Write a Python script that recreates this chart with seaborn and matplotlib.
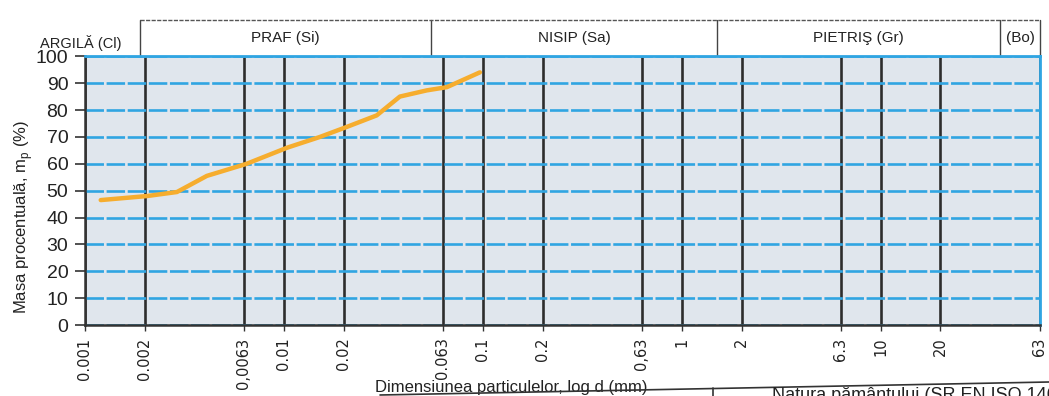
import numpy as np
import pandas as pd
import matplotlib
matplotlib.use("Agg")
import matplotlib.pyplot as plt
import seaborn as sns
from matplotlib.ticker import FixedLocator, NullLocator

# ── Data ───────────────────────────────────────────────────────────────────────
diam_mm  = [0.0012, 0.00205, 0.0029, 0.0041, 0.0065, 0.0104, 0.0152,
            0.0207, 0.0293, 0.0383, 0.0523, 0.066, 0.0967]
pass_pct = [46.5, 48, 49.5, 55.5, 60, 66, 70, 73.7, 78, 85, 87.3, 88.5, 94]

tick_vals   = [0.001, 0.002, 0.0063, 0.01, 0.02, 0.063, 0.1, 0.2, 0.63,
               1, 2, 6.3, 10, 20, 63]
tick_labels = ["0.001", "0.002", "0,0063", "0.01", "0.02", "0.063", "0.1",
               "0.2", "0,63", "1", "2", "6.3", "10", "20", "63"]
y_ticks     = list(range(0, 101, 10))

header_edges  = [0.0019, 0.055, 1.5, 40, 63]
header_labels = ["PRAF (Si)", "NISIP (Sa)", "PIETRIŞ (Gr)", "(Bo)"]

SANS   = "Liberation Sans"
BLUE   = "#30a5e2"
ORANGE = "#f6ad2e"
INK    = "#222222"

df = pd.DataFrame({"d": diam_mm, "p": pass_pct})

# ── Plot ───────────────────────────────────────────────────────────────────────
sns.set_theme(style="white")
plt.rcParams["font.family"] = ["DejaVu Sans"]

fig = plt.figure(figsize=(10.49, 3.96), dpi=100)
ax = fig.add_axes([0.081, 0.179, 0.910, 0.679])
ax.set_facecolor("#e0e6ed")

sns.lineplot(data=df, x="d", y="p", ax=ax, color=ORANGE, linewidth=3.2,
             zorder=5)

ax.set_xscale("log")
ax.set_xlim(0.001, 63)
ax.set_ylim(0, 100)

ax.xaxis.set_major_locator(FixedLocator(tick_vals))
ax.xaxis.set_minor_locator(NullLocator())
ax.set_xticklabels(tick_labels, rotation=90, fontsize=10.5, color=INK)
ax.set_yticks(y_ticks)
ax.set_yticklabels([str(v) for v in y_ticks], fontsize=14, family=SANS,
                   color=INK)

ax.xaxis.grid(True, color="#2d2d2d", linewidth=1.9)
ax.yaxis.grid(True, color=BLUE, linewidth=1.9, linestyle=(0, (7, 1)))
ax.set_axisbelow(True)

ax.tick_params(axis="x", direction="out", length=4, width=1,
               color="#333333", bottom=True, pad=5)
ax.tick_params(axis="y", direction="out", length=7, width=1.2,
               color="#333333", left=True, pad=5)

for side in ["left", "bottom"]:
    ax.spines[side].set_color("#333333")
    ax.spines[side].set_linewidth(1.8)
for side in ["top", "right"]:
    ax.spines[side].set_color(BLUE)
    ax.spines[side].set_linewidth(2)

ax.set_xlabel("Dimensiunea particulelor, log d (mm)", family=SANS,
              fontsize=12, color=INK)
ax.xaxis.set_label_coords(0.447, -0.204)
ax.set_ylabel("Masa procentuală, m$_\\mathregular{p}$ (%)", family=SANS,
              fontsize=12, color=INK)
ax.yaxis.set_label_coords(-0.052, 0.40)

# ── Header with soil classes ───────────────────────────────────────────────────
trans = ax.get_xaxis_transform()
top = 1.133
for e in header_edges:
    ax.plot([e, e], [1.0, top], transform=trans, color="#444444",
            linewidth=1, clip_on=False)
ax.plot([header_edges[0], header_edges[-1]], [top, top], transform=trans,
        color="#555555", linewidth=1, linestyle=(0, (3, 1)), clip_on=False)
for i, lab in enumerate(header_labels):
    xc = np.sqrt(header_edges[i] * header_edges[i + 1])
    ax.text(xc, 1.066, lab, transform=trans, ha="center", va="center",
            fontsize=11, family=SANS, color=INK)
ax.text(-0.004, 1.05, "ARGILĂ (Cl)", transform=ax.transAxes, ha="center",
        va="center", fontsize=10.5, family=SANS, color=INK)

# ── Bottom table fragment ──────────────────────────────────────────────────────
fig.add_artist(plt.Line2D([380 / 1049, 1.0], [1 - 395 / 396, 1 - 382 / 396],
                          color="#333333", linewidth=1.2))
fig.add_artist(plt.Line2D([713 / 1049] * 2, [0, 1 - 388 / 396],
                          color="#333333", linewidth=1.2))
fig.text(772 / 1049, 1 - 387 / 396, "Natura pământului (SR EN ISO 14688",
         ha="left", va="top", fontsize=13, family=SANS, color=INK)

plt.savefig("out.png", dpi=100)
plt.close()
